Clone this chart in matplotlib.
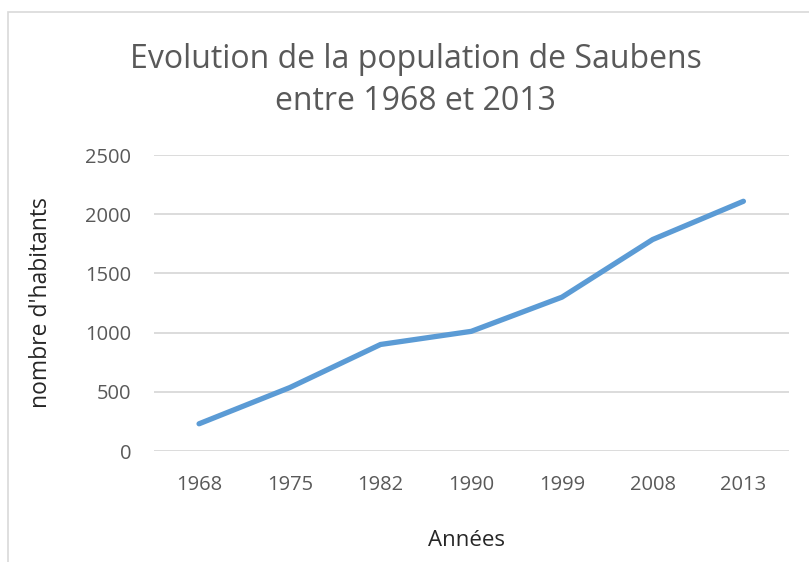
import matplotlib
matplotlib.use('Agg')
import matplotlib.pyplot as plt
from matplotlib.patches import Rectangle

# donnees
annees = ['1968', '1975', '1982', '1990', '1999', '2008', '2013']
habitants = [230, 536, 900, 1011, 1300, 1787, 2110]
yticks = [0, 500, 1000, 1500, 2000, 2500]

plt.rcParams['font.family'] = ['Open Sans', 'DejaVu Sans']
gris = '#595959'

fig = plt.figure(figsize=(8.09, 5.62), dpi=100)
ax = fig.add_axes([0.190, 0.1975, 0.785, 0.5265])

x = range(len(annees))
ax.plot(x, habitants, color='#5B9BD5', linewidth=3.8, solid_capstyle='round',
        solid_joinstyle='round', zorder=3)

ax.set_xlim(-0.5, len(annees) - 0.5)
ax.set_ylim(0, 2500)
ax.set_xticks(list(x))
ax.set_xticklabels(annees)
ax.set_yticks(yticks)
ax.yaxis.grid(True, color='#D9D9D9', linewidth=1.3)
ax.set_axisbelow(True)
for s in ax.spines.values():
    s.set_visible(False)
ax.tick_params(length=0, labelsize=14.5, colors=gris)
ax.tick_params(axis='x', pad=17)
ax.tick_params(axis='y', pad=16)

ax.set_xlabel('Années', fontsize=16, color='#262626')
ax.set_ylabel("nombre d'habitants", fontsize=16.5, color='#262626')
ax.xaxis.set_label_coords(0.493, -0.266)
ax.yaxis.set_label_coords(-0.159, 0.5)

fig.text(0.514, 0.857, 'Evolution de la population de Saubens\nentre 1968 et 2013',
         ha='center', va='center', fontsize=23, color=gris, linespacing=1.38)

# cadre du graphique
fig.patches.append(Rectangle((8 / 809, -0.05), 1.1, 1 - 12 / 562 + 0.05,
                             transform=fig.transFigure, fill=False,
                             edgecolor='#D9D9D9', linewidth=1.2))

fig.savefig('out.png', dpi=100, facecolor='white')
